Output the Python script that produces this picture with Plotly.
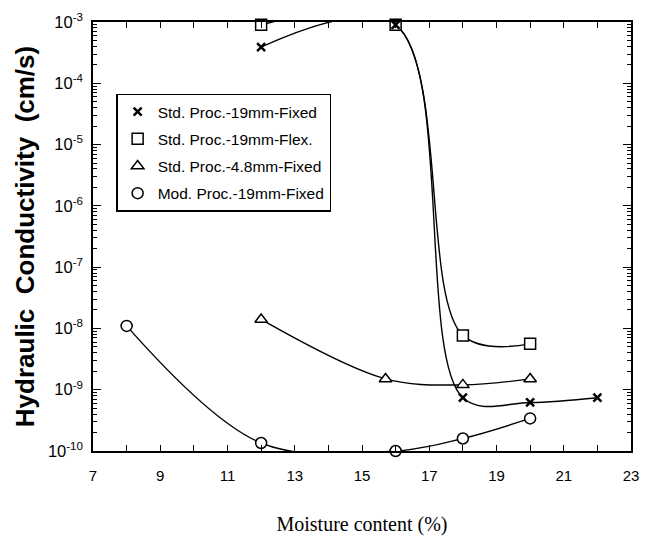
import plotly.graph_objects as go

# ---- data ----
series_names = ["Std. Proc.-19mm-Fixed", "Std. Proc.-19mm-Flex.",
                "Std. Proc.-4.8mm-Fixed", "Mod. Proc.-19mm-Fixed"]

moist_fixed19 = [12, 16, 18, 20, 22]
k_fixed19 = [3.9e-4, 9.0e-4, 7.4e-10, 6.2e-10, 7.4e-10]

moist_flex19 = [12, 16, 18, 20]
k_flex19 = [9.0e-4, 9.0e-4, 7.7e-9, 5.6e-9]

moist_fixed48 = [12, 15.7, 18, 20]
k_fixed48 = [1.4e-8, 1.5e-9, 1.2e-9, 1.5e-9]

moist_mod19 = [8, 12, 16, 18, 20]
k_mod19 = [1.1e-8, 1.35e-10, 1.0e-10, 1.6e-10, 3.4e-10]

x_ticks = [7, 9, 11, 13, 15, 17, 19, 21, 23]
y_exponents = [-10, -9, -8, -7, -6, -5, -4, -3]

# ---- figure ----
fig = go.Figure()

series = [
    (moist_fixed19, k_fixed19, dict(symbol="x-thin", size=8, color="black",
                                     line=dict(color="black", width=2.5))),
    (moist_flex19, k_flex19, dict(symbol="square", size=11, color="white",
                                  line=dict(color="black", width=1.5))),
    (moist_fixed48, k_fixed48, dict(symbol="triangle-up", size=11, color="white",
                                    line=dict(color="black", width=1.5))),
    (moist_mod19, k_mod19, dict(symbol="circle", size=11, color="white",
                                line=dict(color="black", width=1.5))),
]

# curves first (clipped at the frame, as in the original)
for xs, ys, _ in series:
    fig.add_trace(go.Scatter(x=xs, y=ys, mode="lines",
                             line=dict(color="black", width=1.4, shape="spline", smoothing=1.0),
                             showlegend=False, hoverinfo="skip", cliponaxis=True))

# markers on top; the cross series is drawn last so it shows inside the square at 16 %
draw_order = [1, 2, 3, 0]
for i in draw_order:
    xs, ys, mk = series[i]
    fig.add_trace(go.Scatter(x=xs, y=ys, mode="markers", name=series_names[i], marker=mk,
                             legendgroup=f"g{i}", legendrank=i + 1, cliponaxis=False))

minor_y = [m * 10.0 ** e for e in y_exponents[:-1] for m in range(2, 10)]

fig.update_layout(
    width=650, height=543,
    margin=dict(l=93, r=11, t=20, b=91),
    paper_bgcolor="white", plot_bgcolor="white",
    font=dict(family="Liberation Sans, Arial, sans-serif", color="black", size=14),
    showlegend=True,
    legend=dict(x=0.043, y=0.833, xanchor="left", yanchor="top",
                bordercolor="black", borderwidth=1.5, bgcolor="white",
                font=dict(size=15.5, family="Liberation Sans, Arial, sans-serif"),
                tracegroupgap=4, traceorder="grouped"),
)

fig.update_xaxes(
    range=[7, 23], tickvals=x_ticks, ticktext=[str(v) for v in x_ticks],
    ticks="inside", ticklen=6, tickwidth=1.2, tickcolor="black",
    showline=True, linecolor="black", linewidth=1.5, mirror="ticks",
    showgrid=False, zeroline=False, ticklabelstandoff=10,
    tickfont=dict(size=15, family="Liberation Sans, Arial, sans-serif"),
    minor=dict(dtick=1, ticks="inside", ticklen=6, tickcolor="black", showgrid=False),
    title=dict(text="Moisture content (%)", standoff=34,
               font=dict(family="Liberation Serif, Times New Roman, serif", size=20)),
)

fig.update_yaxes(
    type="log", range=[-10, -3],
    tickvals=[10.0 ** e for e in y_exponents],
    ticktext=[f"10<sup>{e}</sup>" for e in y_exponents],
    ticks="inside", ticklen=8, tickwidth=1.2, tickcolor="black",
    showline=True, linecolor="black", linewidth=1.5, mirror="ticks",
    showgrid=False, zeroline=False, ticklabelstandoff=5,
    tickfont=dict(size=16.5, family="Liberation Sans, Arial, sans-serif"),
    minor=dict(tickvals=minor_y, ticks="inside", ticklen=4, tickcolor="black", showgrid=False),
    title=dict(text="<b>Hydraulic  Conductivity  (cm/s)</b>", standoff=6,
               font=dict(family="Liberation Sans, Arial, sans-serif", size=26)),
)

fig.write_html("out.html")
